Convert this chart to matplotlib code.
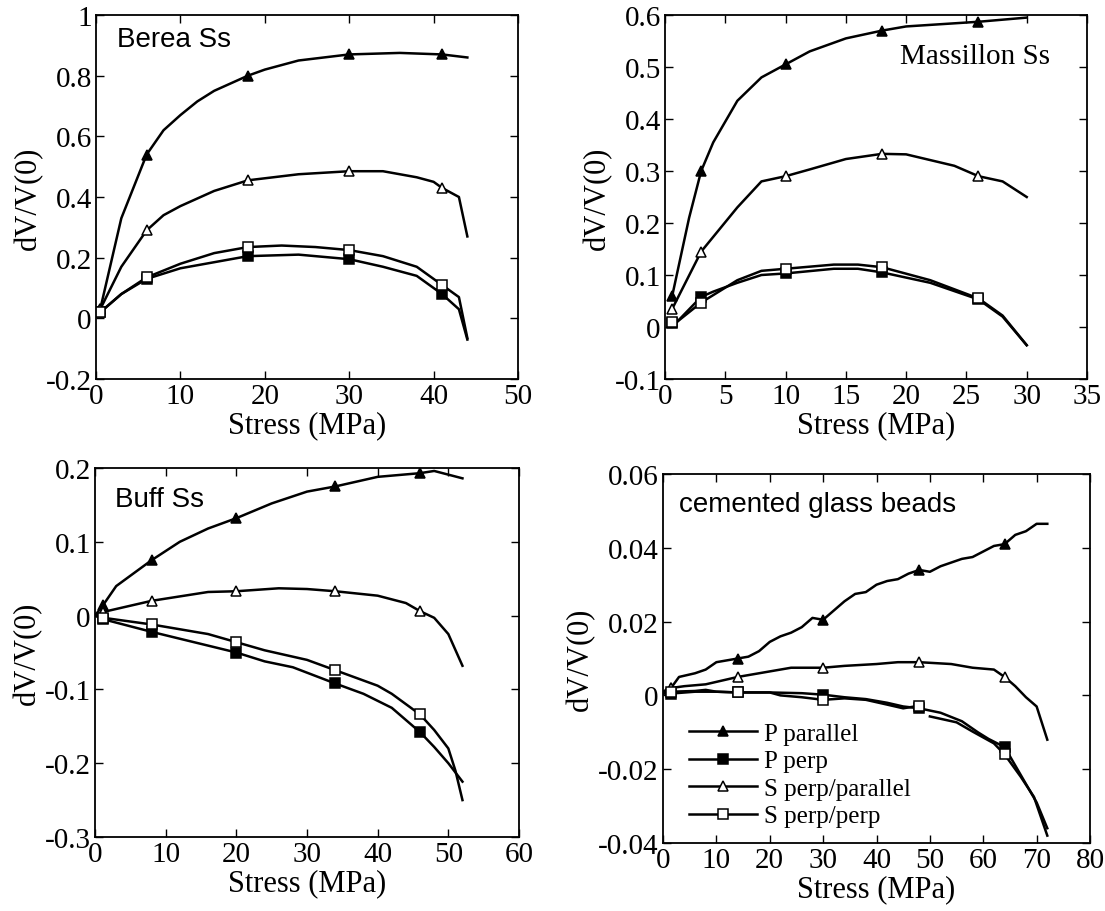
import numpy as np
import matplotlib
matplotlib.use("Agg")
import matplotlib.pyplot as plt
from matplotlib.ticker import MultipleLocator, FormatStrFormatter, FuncFormatter

plt.rcParams['font.family'] = ['Liberation Serif', 'DejaVu Serif']
plt.rcParams['axes.unicode_minus'] = False

## Berea Ss ##############################
berea_pp_x = [0.5, 3, 6, 8, 10, 12, 14, 18, 20, 24, 30, 36, 41, 44]
berea_pp_y = [0.03, 0.33, 0.54, 0.62, 0.67, 0.715, 0.75, 0.80, 0.82, 0.85, 0.87, 0.875, 0.87, 0.86]
berea_pp_mk = [0, 2, 7, 10, 12]
berea_pe_x = [0.5, 3, 6, 10, 14, 18, 24, 30, 34, 38, 41, 43, 44]
berea_pe_y = [0.02, 0.08, 0.13, 0.165, 0.185, 0.205, 0.21, 0.195, 0.17, 0.14, 0.08, 0.03, -0.07]
berea_pe_mk = [0, 2, 5, 7, 10]
berea_sp_x = [0.5, 3, 6, 8, 10, 14, 18, 24, 30, 34, 38, 40, 41, 43, 44]
berea_sp_y = [0.03, 0.17, 0.29, 0.34, 0.37, 0.42, 0.455, 0.475, 0.485, 0.485, 0.465, 0.45, 0.43, 0.40, 0.27]
berea_sp_mk = [0, 2, 6, 8, 12]
berea_ss_x = [0.5, 3, 6, 10, 14, 18, 22, 26, 30, 34, 38, 41, 43, 44]
berea_ss_y = [0.02, 0.08, 0.135, 0.18, 0.215, 0.235, 0.24, 0.235, 0.225, 0.205, 0.17, 0.11, 0.07, -0.065]
berea_ss_mk = [0, 2, 5, 8, 11]

## Massillon Ss ##########################
mass_pp_x = [0.6, 2, 3, 4, 6, 8, 10, 12, 15, 18, 20, 26, 30]
mass_pp_y = [0.06, 0.21, 0.30, 0.355, 0.435, 0.48, 0.505, 0.53, 0.555, 0.57, 0.578, 0.587, 0.595]
mass_pp_mk = [0, 2, 6, 9, 11]
mass_pe_x = [0.6, 1, 3, 4, 6, 8, 10, 14, 16, 18, 22, 26, 28, 30]
mass_pe_y = [0.007, 0.01, 0.058, 0.068, 0.085, 0.1, 0.103, 0.112, 0.112, 0.105, 0.085, 0.053, 0.02, -0.035]
mass_pe_mk = [0, 2, 6, 9, 11]
mass_sp_x = [0.6, 3, 6, 8, 10, 12, 15, 18, 20, 24, 26, 28, 30]
mass_sp_y = [0.035, 0.145, 0.23, 0.28, 0.29, 0.303, 0.323, 0.333, 0.332, 0.31, 0.29, 0.28, 0.25]
mass_sp_mk = [0, 1, 4, 7, 10]
mass_ss_x = [0.6, 1, 3, 6, 8, 10, 14, 16, 18, 22, 26, 28, 30]
mass_ss_y = [0.01, 0.01, 0.047, 0.09, 0.108, 0.112, 0.12, 0.12, 0.115, 0.09, 0.055, 0.022, -0.035]
mass_ss_mk = [0, 2, 5, 8, 10]

## Buff Ss ###############################
buff_pp_x = [0, 1.2, 3, 8, 12, 16, 20, 25, 30, 34, 40, 46, 48, 52]
buff_pp_y = [0, 0.015, 0.04, 0.075, 0.1, 0.118, 0.132, 0.152, 0.168, 0.175, 0.188, 0.193, 0.196, 0.186]
buff_pp_mk = [1, 3, 6, 9, 11]
buff_pe_x = [0, 1.2, 8, 14, 20, 24, 28, 34, 38, 42, 46, 48, 50, 52]
buff_pe_y = [0, -0.005, -0.022, -0.036, -0.05, -0.062, -0.07, -0.092, -0.106, -0.125, -0.158, -0.178, -0.2, -0.225]
buff_pe_mk = [1, 2, 4, 7, 10]
buff_sp_x = [0, 1.2, 8, 16, 20, 26, 30, 34, 40, 44, 46, 48, 50, 52]
buff_sp_y = [0, 0.005, 0.02, 0.032, 0.033, 0.037, 0.036, 0.033, 0.027, 0.017, 0.006, -0.003, -0.025, -0.068]
buff_sp_mk = [1, 2, 4, 7, 10]
buff_ss_x = [0, 1.2, 8, 16, 20, 24, 30, 34, 40, 42, 46, 48, 50, 51, 52]
buff_ss_y = [0, -0.003, -0.012, -0.025, -0.036, -0.047, -0.06, -0.074, -0.095, -0.106, -0.134, -0.155, -0.18, -0.21, -0.25]
buff_ss_mk = [1, 2, 4, 7, 10]

## cemented glass beads ##################
glass_pp_x = [0, 1.5, 3, 6, 8, 10, 12, 14, 16, 18, 20, 22, 24, 26, 28, 30, 32, 34, 36, 38,
              40, 42, 44, 46, 48, 50, 52, 54, 56, 58, 60, 62, 64, 66, 68, 70, 72]
glass_pp_y = [0.001, 0.002, 0.005, 0.006, 0.007, 0.009, 0.0095, 0.010, 0.0105, 0.012, 0.0145,
              0.016, 0.017, 0.0185, 0.021, 0.0205, 0.023, 0.0255, 0.0275, 0.028, 0.030, 0.031,
              0.0315, 0.033, 0.034, 0.0335, 0.035, 0.036, 0.037, 0.0375, 0.039, 0.0405, 0.041,
              0.0435, 0.0445, 0.0465, 0.0465]
glass_pp_mk = [1, 7, 15, 24, 32]
glass_pe_x = [0, 1.5, 6, 10, 14, 20, 26, 30, 34, 38, 42, 45, 48, 52, 56, 59, 61, 64, 66, 68, 70, 72]
glass_pe_y = [0.0005, 0.0005, 0.001, 0.001, 0.0008, 0.0008, 0.0006, 0.0002, -0.0005, -0.001,
              -0.002, -0.003, -0.0035, -0.0047, -0.007, -0.010, -0.0118, -0.014, -0.019, -0.024,
              -0.029, -0.036]
glass_pe_mk = [1, 4, 7, 12, 17]
glass_sp_x = [0, 1.5, 4, 8, 14, 20, 24, 30, 34, 40, 44, 48, 54, 58, 62, 64, 66, 68, 70, 72]
glass_sp_y = [0.001, 0.002, 0.0025, 0.003, 0.005, 0.0065, 0.0075, 0.0075, 0.008, 0.0085, 0.009,
              0.009, 0.0085, 0.0075, 0.007, 0.005, 0.0025, -0.0005, -0.003, -0.012]
glass_sp_mk = [1, 4, 7, 11, 15]
glass_ss_x = [0, 1.5, 6, 8, 10, 14, 20, 22, 26, 30, 34, 38, 42, 45, 48, np.nan,
              50, 55, 58, 62, 64, 67, 69.5, 72]
glass_ss_y = [0.0005, 0.001, 0.0012, 0.0015, 0.001, 0.0008, 0.0008, 0.0, -0.0005, -0.0012,
              -0.0008, -0.0012, -0.0025, -0.0035, -0.0028, np.nan,
              -0.0057, -0.0073, -0.0098, -0.013, -0.016, -0.022, -0.0275, -0.038]
glass_ss_mk = [1, 5, 9, 14, 20]

labels = ['P parallel', 'P perp', 'S perp/parallel', 'S perp/perp']
styles = [dict(marker='^', mfc='k'), dict(marker='s', mfc='k'),
          dict(marker='^', mfc='w'), dict(marker='s', mfc='w')]

W, H = 1105, 912
fig = plt.figure(figsize=(W/100, H/100), dpi=100)

def make_axes(l, r, t, b):
    return fig.add_axes([l/W, 1 - b/H, (r - l)/W, (b - t)/H])

def draw(ax, series, xmax, xstep, ylim, ystep, fmt):
    for (x, y, mk), lab, st in zip(series, labels, styles):
        ax.plot(x, y, 'k-', lw=1.8, markevery=mk, ms=6.5, mec='k', mew=1.1,
                label=lab, **st)
    ax.set_xlim(0, xmax)
    ax.set_ylim(*ylim)
    ax.xaxis.set_major_locator(MultipleLocator(xstep))
    ax.yaxis.set_major_locator(MultipleLocator(ystep))
    ax.yaxis.set_major_formatter(FuncFormatter(lambda v, p: fmt % v if abs(v) > 1e-9 else '0'))
    ax.xaxis.set_major_formatter(FormatStrFormatter('%g'))
    ax.tick_params(direction='in', top=True, right=True, length=6, width=1,
                   labelsize=21, pad=3)
    for s in ax.spines.values():
        s.set_linewidth(1.3)
    ax.set_xlabel('Stress (MPa)', fontsize=22, labelpad=1)
    ax.set_ylabel('dV/V(0)', fontsize=22, labelpad=2)

        # (1,1) ##############################
ax1 = make_axes(96, 518, 16, 380)
draw(ax1, [(berea_pp_x, berea_pp_y, berea_pp_mk), (berea_pe_x, berea_pe_y, berea_pe_mk),
           (berea_sp_x, berea_sp_y, berea_sp_mk), (berea_ss_x, berea_ss_y, berea_ss_mk)],
     50, 10, (-0.2, 1.0), 0.2, '%g')
ax1.text(0.05, 0.935, 'Berea Ss', transform=ax1.transAxes, fontsize=20,
         family='Liberation Sans', va='center')

        # (1,2) ##############################
ax2 = make_axes(665, 1087, 16, 380)
draw(ax2, [(mass_pp_x, mass_pp_y, mass_pp_mk), (mass_pe_x, mass_pe_y, mass_pe_mk),
           (mass_sp_x, mass_sp_y, mass_sp_mk), (mass_ss_x, mass_ss_y, mass_ss_mk)],
     35, 5, (-0.1, 0.6), 0.1, '%g')
ax2.text(0.558, 0.887, 'Massillon Ss', transform=ax2.transAxes, fontsize=21, va='center')

        # (2,1) ##############################
ax3 = make_axes(95, 519, 469, 838)
draw(ax3, [(buff_pp_x, buff_pp_y, buff_pp_mk), (buff_pe_x, buff_pe_y, buff_pe_mk),
           (buff_sp_x, buff_sp_y, buff_sp_mk), (buff_ss_x, buff_ss_y, buff_ss_mk)],
     60, 10, (-0.3, 0.2), 0.1, '%g')
ax3.text(0.046, 0.916, 'Buff Ss', transform=ax3.transAxes, fontsize=20,
         family='Liberation Sans', va='center')

        # (2,2) ##############################
ax4 = make_axes(663, 1090, 475, 844)
draw(ax4, [(glass_pp_x, glass_pp_y, glass_pp_mk), (glass_pe_x, glass_pe_y, glass_pe_mk),
           (glass_sp_x, glass_sp_y, glass_sp_mk), (glass_ss_x, glass_ss_y, glass_ss_mk)],
     80, 10, (-0.04, 0.06), 0.02, '%.2f')
ax4.text(0.037, 0.919, 'cemented glass beads', transform=ax4.transAxes, fontsize=20,
         family='Liberation Sans', va='center')
ax4.legend(loc='lower left', bbox_to_anchor=(0.02, -0.005), frameon=False, fontsize=18,
           handlelength=2.7, handletextpad=0.3, labelspacing=0.2, borderpad=0.2)

plt.savefig('out.png', dpi=100)
